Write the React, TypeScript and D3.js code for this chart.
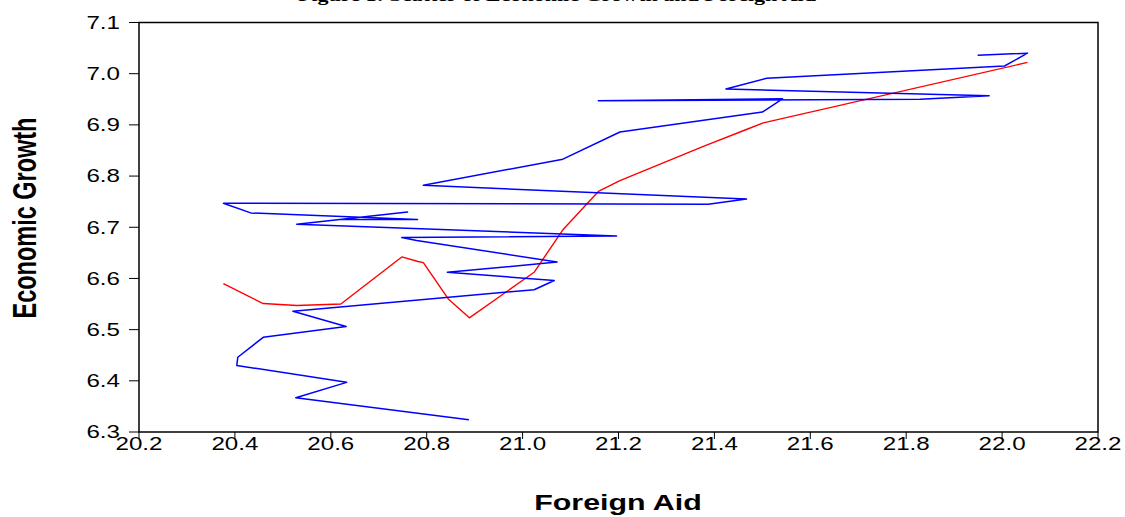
import React from "react";
import * as d3 from "d3";

// Blue: observed series (time order), Foreign Aid (x) vs Economic Growth (y)
const blueAid = [20.888, 20.527, 20.633, 20.404, 20.406, 20.459, 20.632, 20.521, 21.024, 21.066, 20.843, 21.072, 20.779, 20.748, 21.196, 20.529, 20.76, 20.619, 20.781, 20.433, 20.376, 21.387, 21.467, 20.793, 21.084, 21.203, 21.5, 21.542, 21.158, 21.829, 21.973, 21.424, 21.509, 22.005, 22.053, 21.949];
const blueGrowth = [6.324, 6.367, 6.397, 6.43, 6.446, 6.485, 6.506, 6.536, 6.578, 6.596, 6.612, 6.632, 6.674, 6.68, 6.683, 6.706, 6.73, 6.715, 6.715, 6.728, 6.747, 6.745, 6.755, 6.782, 6.833, 6.886, 6.925, 6.951, 6.947, 6.95, 6.957, 6.97, 6.991, 7.015, 7.04, 7.036];

// Red: fitted series sorted by aid
const redAid = [20.376, 20.459, 20.529, 20.621, 20.748, 20.782, 20.793, 20.845, 20.889, 21.024, 21.084, 21.158, 21.203, 21.377, 21.464, 21.502, 22.053];
const redGrowth = [6.59, 6.551, 6.547, 6.55, 6.642, 6.633, 6.631, 6.56, 6.523, 6.612, 6.695, 6.77, 6.791, 6.858, 6.89, 6.904, 7.022];

const xTicks = [20.2, 20.4, 20.6, 20.8, 21.0, 21.2, 21.4, 21.6, 21.8, 22.0, 22.2];
const yTicks = [6.3, 6.4, 6.5, 6.6, 6.7, 6.8, 6.9, 7.0, 7.1];

const W = 1125;
const H = 517;
const L = 139, R = 1098, T = 22.5, B = 432;
const SX = 1.38;
const sans = "'Liberation Sans', Arial, sans-serif";

export default function App() {
  const x = d3.scaleLinear().domain([20.2, 22.2]).range([L, R]);
  const y = d3.scaleLinear().domain([6.3, 7.1]).range([B, T]);
  const line = d3.line<[number, number]>().x((d) => x(d[0])).y((d) => y(d[1]));
  const blue = line(blueAid.map((a, i) => [a, blueGrowth[i]]) as [number, number][]) || "";
  const red = line(redAid.map((a, i) => [a, redGrowth[i]]) as [number, number][]) || "";

  return (
    <svg width={W} height={H} style={{ position: "absolute", left: 0, top: 0, background: "#fff" }}>
      <rect x={0} y={0} width={W} height={H} fill="#fff" />
      <text
        transform={`translate(557,1) scale(${SX},1)`}
        textAnchor="middle"
        fontFamily="'Liberation Serif', 'Times New Roman', serif"
        fontWeight="bold"
        fontSize={16}
        fill="#000"
      >
        Figure 1: Scatter of Economic Growth and Foreign Aid
      </text>
      <path d={red} fill="none" stroke="#ff0000" strokeWidth={1.4} strokeLinejoin="round" />
      <path d={blue} fill="none" stroke="#0000ff" strokeWidth={1.5} strokeLinejoin="round" />
      <rect x={L} y={T} width={R - L} height={B - T} fill="none" stroke="#000" strokeWidth={1.5} />
      {yTicks.map((t) => (
        <g key={"y" + t}>
          <line x1={L - 10} x2={L} y1={y(t)} y2={y(t)} stroke="#000" strokeWidth={1} />
          <text
            transform={`translate(120,${y(t) + 6.3}) scale(${SX},1)`}
            textAnchor="end"
            fontFamily={sans}
            fontSize={17.5}
            fill="#000"
          >
            {t.toFixed(1)}
          </text>
        </g>
      ))}
      {xTicks.map((t) => (
        <g key={"x" + t}>
          <line x1={x(t)} x2={x(t)} y1={B} y2={B + 7} stroke="#000" strokeWidth={1} />
          <text
            transform={`translate(${x(t)},450) scale(${SX},1)`}
            textAnchor="middle"
            fontFamily={sans}
            fontSize={17.5}
            fill="#000"
          >
            {t.toFixed(1)}
          </text>
        </g>
      ))}
      <text
        transform={`translate(618,510) scale(${SX},1)`}
        textAnchor="middle"
        fontFamily={sans}
        fontWeight="bold"
        fontSize={22}
        fill="#000"
      >
        Foreign Aid
      </text>
      <text
        transform={`translate(36,218) scale(${SX},1) rotate(-90)`}
        textAnchor="middle"
        fontFamily={sans}
        fontWeight="bold"
        fontSize={23.5}
        fill="#000"
      >
        Economic Growth
      </text>
    </svg>
  );
}
